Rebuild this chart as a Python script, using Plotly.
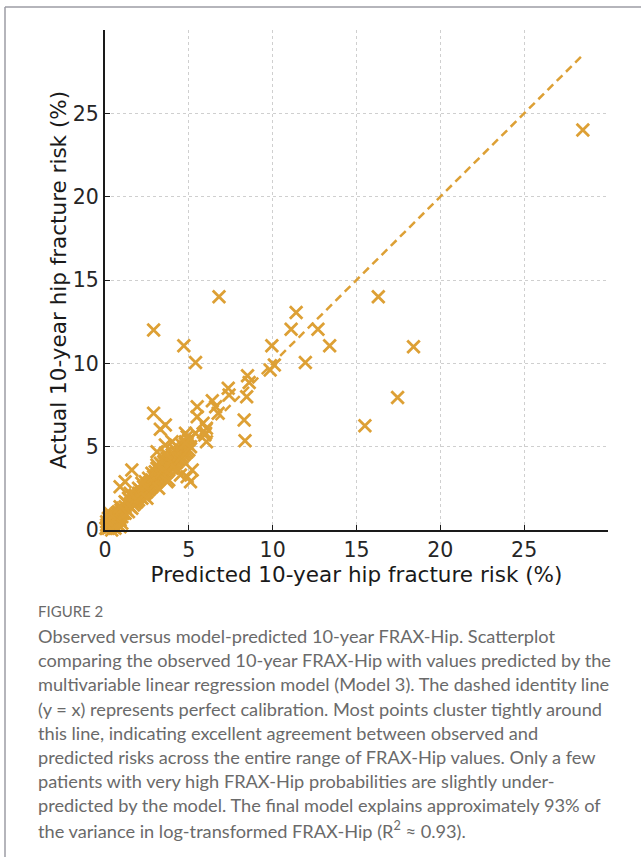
import plotly.graph_objects as go

# ---- data ----
pred_cluster = [
    0.05, 0.1, 0.1, 0.15, 0.2, 0.2, 0.25, 0.3, 0.3, 0.35, 0.4, 0.4, 0.45, 0.5, 0.5, 0.55,
    0.6, 0.6, 0.65, 0.7, 0.7, 0.75, 0.8, 0.8, 0.85, 0.9, 0.9, 0.95, 1.0, 1.0, 1.05, 1.1,
    0.2, 0.3, 0.1, 0.5, 0.8, 0.9, 0.6, 0.4, 1.0, 0.3,
    1.2, 1.2, 1.3, 1.3, 1.4, 1.4, 1.4, 1.5, 1.5, 1.6, 1.6, 1.6, 1.7, 1.7, 1.8, 1.8, 1.8,
    1.9, 1.9, 2.0, 2.0, 2.0, 2.1, 2.1, 2.2, 2.2, 2.3, 2.3, 2.4, 2.4, 2.4, 2.5, 2.5,
    2.6, 2.6, 2.6, 2.7, 2.7, 2.8, 2.8, 2.8, 2.9, 2.9, 3.0, 3.0, 3.0, 3.1, 3.1, 3.1,
    3.2, 3.2, 3.3, 3.3, 3.3, 3.4, 3.4, 3.4, 3.5, 3.5, 3.5, 3.6, 3.6, 3.7, 3.7, 3.7,
    3.8, 3.8, 3.8, 3.9, 3.9, 4.0, 4.0, 4.0, 4.1, 4.1, 4.2, 4.2, 4.2, 4.3, 4.3,
    4.4, 4.4, 4.4, 4.5, 4.5, 4.6, 4.6, 4.6, 4.7, 4.7, 4.8, 4.8, 4.8, 4.9, 4.9, 5.0, 5.0, 5.1, 5.1,
    2.5, 3.2, 3.8, 4.3, 2.2, 1.5, 1.2, 0.9, 3.1, 3.6,
]
actual_cluster = [
    0.1, 0.1, 0.3, 0.2, 0.1, 0.4, 0.2, 0.3, 0.6, 0.2, 0.4, 0.7, 0.3, 0.5, 0.8, 0.4,
    0.6, 0.9, 0.5, 0.7, 1.0, 0.6, 0.8, 1.1, 0.7, 0.9, 0.6, 1.2, 1.0, 0.8, 1.3, 1.0,
    0.7, 0.9, 0.5, 0.2, 0.3, 0.2, 0.1, 0.0, 0.4, 1.0,
    1.0, 1.4, 1.2, 1.6, 1.1, 1.5, 1.9, 1.4, 1.8, 1.3, 1.7, 2.0, 1.5, 1.9, 1.6, 2.1, 1.8,
    1.7, 2.0, 1.8, 2.2, 2.5, 2.0, 2.4, 1.9, 2.3, 2.1, 2.6, 2.2, 2.5, 2.9, 2.3, 2.7,
    2.4, 2.8, 3.1, 2.5, 2.9, 2.6, 3.0, 3.4, 2.7, 3.2, 2.8, 3.1, 3.5, 2.9, 3.3, 3.7,
    3.0, 3.4, 3.1, 3.6, 4.0, 3.2, 3.5, 3.9, 3.3, 3.7, 4.1, 3.4, 3.8, 3.5, 3.9, 4.3,
    3.6, 4.0, 4.4, 3.8, 4.2, 3.7, 4.1, 4.5, 3.9, 4.3, 4.0, 4.4, 4.8, 4.1, 4.6,
    4.2, 4.5, 4.9, 4.3, 4.7, 4.4, 4.8, 5.1, 4.5, 4.9, 4.6, 5.0, 5.3, 4.7, 5.2, 4.8, 5.4, 5.0, 5.5,
    1.9, 2.5, 3.0, 3.6, 2.8, 2.2, 1.7, 1.4, 3.9, 4.6,
]
pred_outliers = [
    28.5, 18.4, 17.45, 16.3, 15.5, 13.4, 12.7, 11.95, 11.4, 11.1, 9.95, 10.1, 9.85,
    6.8, 2.9, 4.7, 5.4, 8.5, 8.6, 8.45, 8.3, 8.35, 7.35, 7.4, 6.4, 6.6, 6.75,
    5.5, 5.5, 5.85, 6.05, 5.95, 6.05, 2.9, 3.6, 3.3, 3.1, 1.6, 0.9, 1.2,
    5.2, 4.9, 5.1, 4.5, 3.7, 4.0, 3.6, 5.4, 6.0, 4.8, 4.9, 4.8,
]
actual_outliers = [
    24.0, 11.0, 7.95, 14.0, 6.25, 11.05, 12.05, 10.05, 13.05, 12.05, 11.05, 9.9, 9.6,
    14.0, 12.0, 11.05, 10.05, 9.25, 8.85, 8.0, 6.6, 5.35, 8.5, 8.1, 7.75, 7.4, 7.0,
    7.4, 6.8, 6.4, 6.1, 5.7, 5.3, 7.0, 6.3, 6.05, 4.7, 3.6, 2.6, 2.9,
    3.6, 3.2, 2.9, 3.3, 2.9, 5.3, 5.1, 5.8, 5.8, 5.8, 5.6, 5.2,
]
identity_x = [0, 28.5]
identity_y = [0, 28.5]
tick_vals = [0, 5, 10, 15, 20, 25]
x_title = "Predicted 10-year hip fracture risk (%)"
y_title = "Actual 10-year hip fracture risk (%)"
caption_head = "FIGURE 2"
caption_lines = [
    "Observed versus model-predicted 10-year FRAX-Hip. Scatterplot",
    "comparing the observed 10-year FRAX-Hip with values predicted by the",
    "multivariable linear regression model (Model 3). The dashed identity line",
    "(y = x) represents perfect calibration. Most points cluster tightly around",
    "this line, indicating excellent agreement between observed and",
    "predicted risks across the entire range of FRAX-Hip values. Only a few",
    "patients with very high FRAX-Hip probabilities are slightly under-",
    "predicted by the model. The final model explains approximately 93% of",
    "the variance in log-transformed FRAX-Hip (R<sup>2</sup> ≈ 0.93).",
]

GOLD = "#DDA035"
W, H = 641, 857
ML, MR, MT, MB = 105, 33, 30, 327
PW, PH = W - ML - MR, H - MT - MB


def px2x(px):
    return (px - ML) / PW


def py2y(py):
    return (H - MB - py) / PH


fig = go.Figure()
fig.add_trace(go.Scatter(
    x=identity_x, y=identity_y, mode="lines",
    line=dict(color=GOLD, width=2.5, dash="8px,5px"),
    hoverinfo="skip", showlegend=False,
))
fig.add_trace(go.Scatter(
    x=pred_cluster + pred_outliers, y=actual_cluster + actual_outliers, mode="markers",
    marker=dict(symbol="x-thin", size=12.5, line=dict(color=GOLD, width=2.8), color=GOLD),
    cliponaxis=False, showlegend=False,
))

axis_common = dict(
    tickvals=tick_vals, showgrid=True, gridcolor="#cfcfcf", griddash="dot", gridwidth=1,
    showline=True, linecolor="#1a1a1a", linewidth=2, ticks="inside", ticklen=5,
    tickwidth=1.2, tickcolor="#1a1a1a", zeroline=False,
    tickfont=dict(family="DejaVu Sans", size=20.5, color="#262626"),
    title_font=dict(family="DejaVu Sans", size=21.5, color="#1a1a1a"),
    range=[0, 30], fixedrange=True,
)
fig.update_xaxes(**axis_common, title_text=x_title, title_standoff=4)
fig.update_yaxes(**axis_common, title_text=y_title, title_standoff=0)

annotations = [dict(
    x=px2x(36), y=py2y(611), xref="paper", yref="paper", xanchor="left", yanchor="middle",
    text=caption_head, showarrow=False,
    font=dict(family="Lato", size=15, color="#6a6a6a"),
)]
for i, line in enumerate(caption_lines):
    annotations.append(dict(
        x=px2x(36), y=py2y(636 + i * 24.2), xref="paper", yref="paper",
        xanchor="left", yanchor="middle", text=line, showarrow=False,
        font=dict(family="Lato", size=18.2, color="#6a6a6a"),
    ))

shapes = [
    dict(type="line", xref="paper", yref="paper", x0=px2x(5), x1=px2x(W + 5),
         y0=py2y(7), y1=py2y(7), line=dict(color="#9c9ca4", width=1.5)),
    dict(type="line", xref="paper", yref="paper", x0=px2x(5), x1=px2x(5),
         y0=py2y(7), y1=py2y(H + 5), line=dict(color="#9c9ca4", width=1.5)),
]

fig.update_layout(
    width=W, height=H, margin=dict(l=ML, r=MR, t=MT, b=MB, pad=0),
    paper_bgcolor="white", plot_bgcolor="white",
    annotations=annotations, shapes=shapes, showlegend=False,
)
fig.write_html("out.html", config={"displayModeBar": False})
